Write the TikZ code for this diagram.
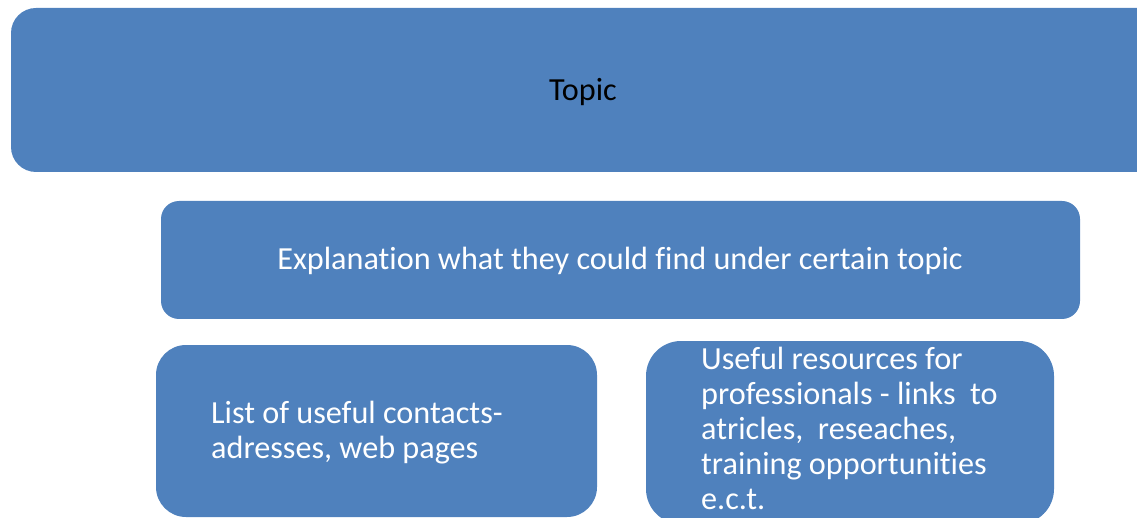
\documentclass[tikz,border=0pt]{standalone}
\usepackage{fontspec}
\setmainfont[Ligatures=NoCommon]{Carlito}
\definecolor{boxblue}{RGB}{79,129,189}
\begin{document}
\begin{tikzpicture}[x=1pt,y=-1pt,
  blk/.style={fill=boxblue,draw=none},
  txt/.style={font=\fontsize{32.2}{35}\selectfont,text=white,inner sep=0pt}]
\useasboundingbox (0,0) rectangle (1137,518);
\clip (0,0) rectangle (1137,518);
\fill[blk,rounded corners=25pt] (11,8) rectangle (1162,172);
\node[txt,text=black] (topic) at (583,92) {Topic};
\fill[blk,rounded corners=18pt] (161,201) rectangle (1080,319);
\node[txt] (expl) at (620,261) {Explanation what they could find under certain topic};
\fill[blk,rounded corners=30pt] (156,345) rectangle (597,517);
\node[txt,anchor=base west,align=left] (list) at (211,458) {List of useful contacts-\\adresses, web pages};
\fill[blk,rounded corners=35pt] (646,341) rectangle (1054,524);
\node[txt,anchor=base west,align=left] (res) at (701,509) {Useful resources for\\professionals - links\ \ to\\atricles,\ \ reseaches,\\training opportunities\\e.c.t.};
\end{tikzpicture}
\end{document}
